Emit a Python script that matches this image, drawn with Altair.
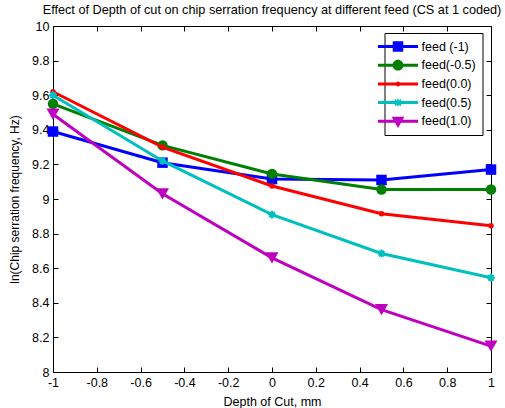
import altair as alt
import pandas as pd

# ---- data ----
depth = [-1, -0.5, 0, 0.5, 1]
series_names = ["feed (-1)", "feed(-0.5)", "feed(0.0)", "feed(0.5)", "feed(1.0)"]
feed_m1 = [9.39, 9.21, 9.115, 9.11, 9.17]
feed_m05 = [9.55, 9.31, 9.145, 9.055, 9.055]
feed_0 = [9.62, 9.30, 9.075, 8.915, 8.845]
feed_05 = [9.60, 9.22, 8.91, 8.685, 8.545]
feed_1 = [9.49, 9.03, 8.66, 8.36, 8.15]
values = [feed_m1, feed_m05, feed_0, feed_05, feed_1]

x_ticks = [-1, -0.8, -0.6, -0.4, -0.2, 0, 0.2, 0.4, 0.6, 0.8, 1]
y_ticks = [8, 8.2, 8.4, 8.6, 8.8, 9, 9.2, 9.4, 9.6, 9.8, 10]

colors = ["#0000ff", "#008000", "#ff0000", "#00bfbf", "#bf00bf"]

rows = []
for name, vals in zip(series_names, values):
    for d, v in zip(depth, vals):
        rows.append({"depth": d, "freq": v, "series": name})
df = pd.DataFrame(rows)

FONT = "Liberation Sans"

x_axis = alt.Axis(values=x_ticks, orient="bottom", offset=-5, tickSize=5, labelPadding=4,
                  domain=False, grid=False, labelExpr="'' + datum.value", tickColor="black",
                  labelColor="black", labelFontSize=12.5, titleFontSize=12.5, titleFontWeight="normal",
                  titleColor="black", titlePadding=7, labelFlush=False, labelOverlap=False)
y_axis = alt.Axis(values=y_ticks, orient="left", offset=-5, tickSize=5, labelPadding=4,
                  domain=False, grid=False, labelExpr="'' + datum.value", tickColor="black",
                  labelColor="black", labelFontSize=12.5, titleFontSize=12, titleFontWeight="normal",
                  titleColor="black", titlePadding=10, labelFlush=False, labelOverlap=False)

X = alt.X("depth:Q", scale=alt.Scale(domain=[-1, 1], nice=False, zero=False),
          axis=x_axis, title="Depth of Cut, mm")
Y = alt.Y("freq:Q", scale=alt.Scale(domain=[8, 10], nice=False, zero=False),
          axis=y_axis, title="ln(Chip serration frequency, Hz)")

marker_specs = [
    dict(shape="square", size=110, filled=True, strokeWidth=1),
    dict(shape="circle", size=110, filled=True, strokeWidth=1),
    dict(shape="circle", size=30, filled=True, strokeWidth=1),
    dict(shape="M-1,0L1,0M0,-1L0,1M-0.7,-0.7L0.7,0.7M-0.7,0.7L0.7,-0.7", size=60,
         filled=False, strokeWidth=2),
    dict(shape="triangle-down", size=170, filled=True, strokeWidth=1),
]

layers = []
for name, col, ms in zip(series_names, colors, marker_specs):
    base = alt.Chart(df).transform_filter(alt.datum.series == name)
    layers.append(base.mark_line(color=col, strokeWidth=3).encode(x=X, y=Y))
    layers.append(base.mark_point(color=col, opacity=1, **ms).encode(x=X, y=Y))

# legend glyphs (filled only): line strip plus marker, unit = 7.5 px for symbol size 225
STRIP = "M-2.67,-0.2L2.67,-0.2L2.67,0.2L-2.67,0.2Z"
BOUNDS = "M0,-0.95L0,-0.95M0,0.95L0,0.95"
legend_paths = [
    STRIP + "M-0.7,-0.7L0.7,-0.7L0.7,0.7L-0.7,0.7Z" + BOUNDS,
    STRIP + "M-0.72,0A0.72,0.72 0 1,1 0.72,0A0.72,0.72 0 1,1 -0.72,0Z" + BOUNDS,
    STRIP + "M-0.33,0A0.33,0.33 0 1,1 0.33,0A0.33,0.33 0 1,1 -0.33,0Z" + BOUNDS,
    STRIP + "M-0.1,-0.5L0.1,-0.5L0.1,0.5L-0.1,0.5Z"
    "M-0.33,-0.47L0.47,0.33L0.33,0.47L-0.47,-0.33Z"
    "M0.47,-0.33L-0.33,0.47L-0.47,0.33L0.33,-0.47Z" + BOUNDS,
    STRIP + "M-0.85,-0.6L0.85,-0.6L0,0.9Z" + BOUNDS,
]

leg = alt.Legend(title=None, orient="none", legendX=331.5, legendY=7, strokeColor="black",
                 fillColor="white", padding=6, labelFontSize=12.5, labelColor="black",
                 symbolStrokeWidth=0, symbolSize=225, symbolOpacity=1, rowPadding=3.7,
                 labelOffset=16, labelFont=FONT)

legend_layer = alt.Chart(df).transform_filter("false").mark_point(
    filled=True, size=225, strokeWidth=0, opacity=1).encode(
    fill=alt.Fill("series:N", scale=alt.Scale(domain=series_names, range=colors), legend=leg),
    shape=alt.Shape("series:N", scale=alt.Scale(domain=series_names, range=legend_paths), legend=leg),
)

inner = alt.layer(*layers, legend_layer)

tick_layer = alt.Chart(df).transform_filter("false").mark_point(opacity=0).encode(
    x=alt.X("depth:Q", scale=alt.Scale(domain=[-1, 1], nice=False, zero=False),
            axis=alt.Axis(values=x_ticks, orient="top", offset=-5, tickSize=5, labels=False,
                          domain=False, grid=False, tickColor="black", title=None)),
    y=alt.Y("freq:Q", scale=alt.Scale(domain=[8, 10], nice=False, zero=False),
            axis=alt.Axis(values=y_ticks, orient="right", offset=-5, tickSize=5, labels=False,
                          domain=False, grid=False, tickColor="black", title=None)),
)

chart = alt.layer(inner, tick_layer).resolve_axis(x="independent", y="independent").properties(
    width=438, height=346,
    title=alt.TitleParams(
        "Effect of Depth of cut on chip serration frequency at different feed (CS at 1 coded)",
        fontSize=12.7, fontWeight="normal", font=FONT, color="black", anchor="middle", offset=3),
    autosize=alt.AutoSizeParams(type="none"),
    padding={"left": 53, "top": 26, "right": 14, "bottom": 36},
).configure(font=FONT, background="white").configure_view(stroke="black", strokeWidth=1)

chart.save("out.html", embed_options={"renderer": "svg", "actions": False})
